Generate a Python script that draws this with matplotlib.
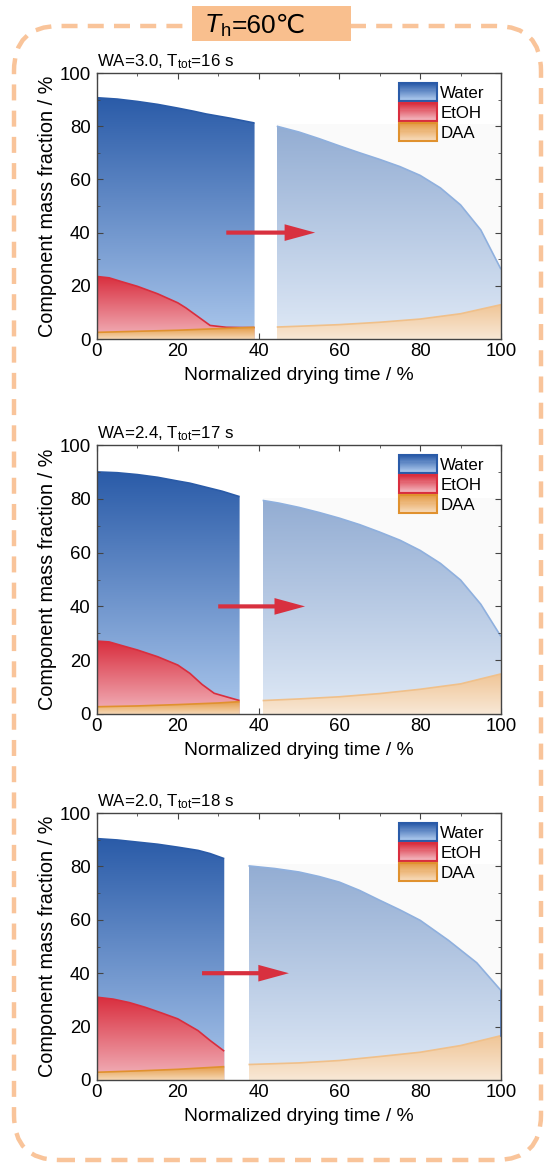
import numpy as np
import matplotlib
matplotlib.use("Agg")
import matplotlib.pyplot as plt
from matplotlib.patches import Rectangle, FancyBboxPatch, Patch, Polygon
from matplotlib.legend_handler import HandlerBase
from matplotlib.ticker import MultipleLocator
from matplotlib.colors import to_rgb

plt.rcParams['font.family'] = ['Liberation Sans', 'DejaVu Sans']
plt.rcParams['mathtext.fontset'] = 'custom'
plt.rcParams['mathtext.rm'] = 'Liberation Sans'
plt.rcParams['mathtext.it'] = 'Liberation Sans:italic'

# ---- data ----
titles = ["WA=3.0, T$_\\mathrm{tot}$=16 s",
          "WA=2.4, T$_\\mathrm{tot}$=17 s",
          "WA=2.0, T$_\\mathrm{tot}$=18 s"]

# panel 1 (WA=3.0)
p1_water_x1 = [0, 5, 10, 15, 20, 24, 27, 33, 39]
p1_water_y1 = [90.7, 90.2, 89.3, 88.2, 86.8, 85.6, 84.6, 83.0, 81.2]
p1_water_x2 = [44.5, 50, 55, 60, 65, 70, 75, 80, 85, 90, 95, 100]
p1_water_y2 = [80.0, 77.8, 75.3, 72.6, 70.0, 67.5, 64.8, 61.5, 56.8, 50.4, 41.0, 26.2]
p1_etoh_x = [0, 3, 6, 10, 15, 20, 22, 25, 28, 32, 36, 39]
p1_etoh_y = [23.5, 23.0, 21.6, 19.8, 17.0, 13.6, 11.7, 8.4, 5.1, 4.4, 4.3, 4.3]
p1_daa_x1 = [0, 10, 20, 30, 39]
p1_daa_y1 = [2.5, 2.9, 3.3, 3.9, 4.4]
p1_daa_x2 = [44.5, 50, 60, 70, 80, 90, 100]
p1_daa_y2 = [4.5, 4.8, 5.4, 6.3, 7.5, 9.5, 12.9]

# panel 2 (WA=2.4)
p2_water_x1 = [0, 5, 10, 15, 20, 23, 27, 31, 35.3]
p2_water_y1 = [90.0, 89.7, 89.0, 88.0, 86.6, 85.8, 84.3, 82.8, 80.8]
p2_water_x2 = [41, 45, 50, 55, 60, 65, 70, 75, 80, 85, 90, 95, 100]
p2_water_y2 = [79.4, 78.4, 76.8, 74.9, 72.8, 70.4, 67.6, 64.6, 60.8, 56.0, 49.8, 40.8, 28.8]
p2_etoh_x = [0, 3, 6, 10, 15, 20, 23, 26, 29, 32, 35.3]
p2_etoh_y = [27.1, 26.8, 25.5, 23.8, 21.3, 18.2, 15.1, 11.0, 7.7, 6.4, 5.0]
p2_daa_x1 = [0, 10, 20, 30, 35.3]
p2_daa_y1 = [2.7, 3.0, 3.5, 4.1, 4.6]
p2_daa_x2 = [41, 50, 60, 70, 80, 90, 100]
p2_daa_y2 = [5.0, 5.6, 6.4, 7.6, 9.2, 11.2, 14.9]

# panel 3 (WA=2.0)
p3_water_x1 = [0, 5, 10, 15, 20, 25, 28, 31.5]
p3_water_y1 = [90.4, 89.9, 89.1, 88.3, 87.2, 86.0, 84.8, 82.9]
p3_water_x2 = [37.5, 44, 50, 55, 60, 65, 70, 75, 80, 87, 94, 100]
p3_water_y2 = [80.2, 79.2, 77.9, 76.2, 74.1, 71.0, 67.3, 63.7, 59.8, 52.3, 43.9, 33.5]
p3_etoh_x = [0, 4, 8, 12, 16, 20, 25, 28, 31.5]
p3_etoh_y = [31.0, 30.3, 29.0, 27.2, 25.1, 22.9, 18.5, 14.8, 10.8]
p3_daa_x1 = [0, 10, 20, 31.5]
p3_daa_y1 = [2.9, 3.4, 4.0, 5.0]
p3_daa_x2 = [37.5, 50, 60, 70, 80, 90, 100]
p3_daa_y2 = [5.8, 6.4, 7.3, 8.8, 10.4, 12.9, 16.6]

# arrow start/end (x) at y=40
arrow_x = [(32, 54), (30, 51.5), (26, 47.5)]
arrow_y = 40

panels = [
    (p1_water_x1, p1_water_y1, p1_water_x2, p1_water_y2, p1_etoh_x, p1_etoh_y,
     p1_daa_x1, p1_daa_y1, p1_daa_x2, p1_daa_y2),
    (p2_water_x1, p2_water_y1, p2_water_x2, p2_water_y2, p2_etoh_x, p2_etoh_y,
     p2_daa_x1, p2_daa_y1, p2_daa_x2, p2_daa_y2),
    (p3_water_x1, p3_water_y1, p3_water_x2, p3_water_y2, p3_etoh_x, p3_etoh_y,
     p3_daa_x1, p3_daa_y1, p3_daa_x2, p3_daa_y2),
]

# colours (top, bottom, edge)
WATER1 = ('#2a5ba8', '#abc7ec', '#2a5ba8')
WATER2 = ('#93add3', '#dfe9f6', '#8fb0de')
ETOH = ('#d92e3e', '#f2b5bd', '#d92e3e')
DAA1 = ('#e49a45', '#f6d8b6', '#e0912e')
DAA2 = ('#f0c596', '#f8e8d6', '#f0c08a')


def grad_fill(ax, x, y, cols, z):
    x = np.asarray(x, float)
    y = np.asarray(y, float)
    verts = np.vstack([np.column_stack([x, y]), [[x[-1], 0], [x[0], 0]]])
    poly = Polygon(verts, closed=True, facecolor='none', edgecolor='none')
    ax.add_patch(poly)
    ct, cb = np.array(to_rgb(cols[0])), np.array(to_rgb(cols[1]))
    t = np.linspace(0, 1, 256)[:, None]
    img = (ct * (1 - t) + cb * t)[:, None, :]
    im = ax.imshow(img, extent=[x.min(), x.max(), 0, y.max()], aspect='auto',
                   origin='upper', zorder=z, interpolation='bilinear')
    im.set_clip_path(poly)
    ax.plot(x, y, color=cols[2], lw=1.2, zorder=z + 0.1, solid_capstyle='butt')


class GradHandler(HandlerBase):
    def __init__(self, cols):
        super().__init__()
        self.cols = cols

    def create_artists(self, legend, orig_handle, xdescent, ydescent,
                       width, height, fontsize, trans):
        ct, cb = np.array(to_rgb(self.cols[0])), np.array(to_rgb(self.cols[1]))
        n = 16
        arts = []
        for i in range(n):
            f = i / (n - 1)
            c = ct * (1 - f) + cb * f
            arts.append(Rectangle((-xdescent, -ydescent + height * (n - 1 - i) / n),
                                  width, height / n + 0.3, facecolor=c, lw=0,
                                  transform=trans))
        arts.append(Rectangle((-xdescent, -ydescent), width, height, facecolor='none',
                              edgecolor=self.cols[2], lw=1.5, transform=trans))
        return arts


fig = plt.figure(figsize=(5.47, 11.67), dpi=100)

# dashed rounded frame
frame = FancyBboxPatch((0.14, 0.07), 5.27, 11.34,
                       boxstyle='round,pad=0,rounding_size=0.45',
                       transform=fig.dpi_scale_trans, facecolor='none',
                       edgecolor='#f9c49a', lw=3.2, linestyle=(0, (3.6, 2.3)))
fig.patches.append(frame)
hdr = Rectangle((1.92, 11.67 - 0.41), 1.59, 0.35, transform=fig.dpi_scale_trans,
                facecolor='#f9bf8e', edgecolor='none', zorder=5)
fig.patches.append(hdr)
hy = 1 - 0.325 / 11.67
fig.text(2.31 / 5.47, hy, '$T_\\mathrm{h}$', ha='right', va='baseline',
         fontsize=19, zorder=6)
fig.text(2.32 / 5.47, hy, '=60℃', ha='left', va='baseline', fontsize=19, zorder=6,
         family=['Liberation Sans', 'DejaVu Sans'])

ax_pos = [(339, 266), (714, 269), (1080, 267)]
for k, (d, pos) in enumerate(zip(panels, ax_pos)):
    wx1, wy1, wx2, wy2, ex, ey, dx1, dy1, dx2, dy2 = d
    bottom_px, h_px = pos
    ax = fig.add_axes([97 / 547, (1167 - bottom_px) / 1167, 404 / 547, h_px / 1167])
    ax.set_xlim(0, 100)
    ax.set_ylim(0, 100)

    # faint background after the gap
    ax.add_patch(Rectangle((wx2[0], 0), 100 - wx2[0], wy2[0] + 0.8,
                           facecolor='#fafafa', edgecolor='none', zorder=0.5))

    grad_fill(ax, wx1, wy1, WATER1, 1)
    grad_fill(ax, wx2, wy2, WATER2, 1)
    grad_fill(ax, ex, ey, ETOH, 2)
    grad_fill(ax, dx1, dy1, DAA1, 3)
    grad_fill(ax, dx2, dy2, DAA2, 3)
    if k == 2:
        ax.plot([wx2[-1], wx2[-1]], [dy2[-1], wy2[-1]], color='#4a78c0', lw=1.2, zorder=4)

    ax.annotate('', xy=(arrow_x[k][1], arrow_y), xytext=(arrow_x[k][0], arrow_y),
                arrowprops=dict(arrowstyle='simple,head_length=2.2,head_width=1.2,tail_width=0.3',
                                color='#d8303f', lw=0, shrinkA=0, shrinkB=0,
                                mutation_scale=10), zorder=6)

    ax.xaxis.set_major_locator(MultipleLocator(20))
    ax.yaxis.set_major_locator(MultipleLocator(20))
    ax.xaxis.set_minor_locator(MultipleLocator(10))
    ax.yaxis.set_minor_locator(MultipleLocator(10))
    ax.tick_params(which='both', direction='in', top=True, right=True,
                   labelsize=13.4, color='#444')
    ax.tick_params(axis='x', which='both', pad=3)
    ax.tick_params(axis='y', which='both', pad=4.5)
    ax.tick_params(which='major', length=4)
    ax.tick_params(which='minor', length=2.5)
    for s in ax.spines.values():
        s.set_color('#444')
        s.set_linewidth(1.0)
        s.set_zorder(10)

    ax.set_xlabel('Normalized drying time / %', fontsize=13.9, labelpad=5)
    ax.set_ylabel('Component mass fraction / %', fontsize=14.3, labelpad=2)
    ax.text(0.0, 1.008, titles[k], transform=ax.transAxes, ha='left', va='bottom',
            fontsize=12.2)

    handles = [Patch(label='Water'), Patch(label='EtOH'), Patch(label='DAA')]
    hmap = {handles[0]: GradHandler(WATER1), handles[1]: GradHandler(ETOH),
            handles[2]: GradHandler(DAA1)}
    leg = ax.legend(handles=handles, handler_map=hmap, loc='upper right',
                    frameon=False, fontsize=12.2, handlelength=2.25, handleheight=1.25,
                    labelspacing=0.12, handletextpad=0.2, borderaxespad=0.2,
                    bbox_to_anchor=(0.985, 1.0))
    leg.set_zorder(12)

fig.savefig('out.png', dpi=100)
